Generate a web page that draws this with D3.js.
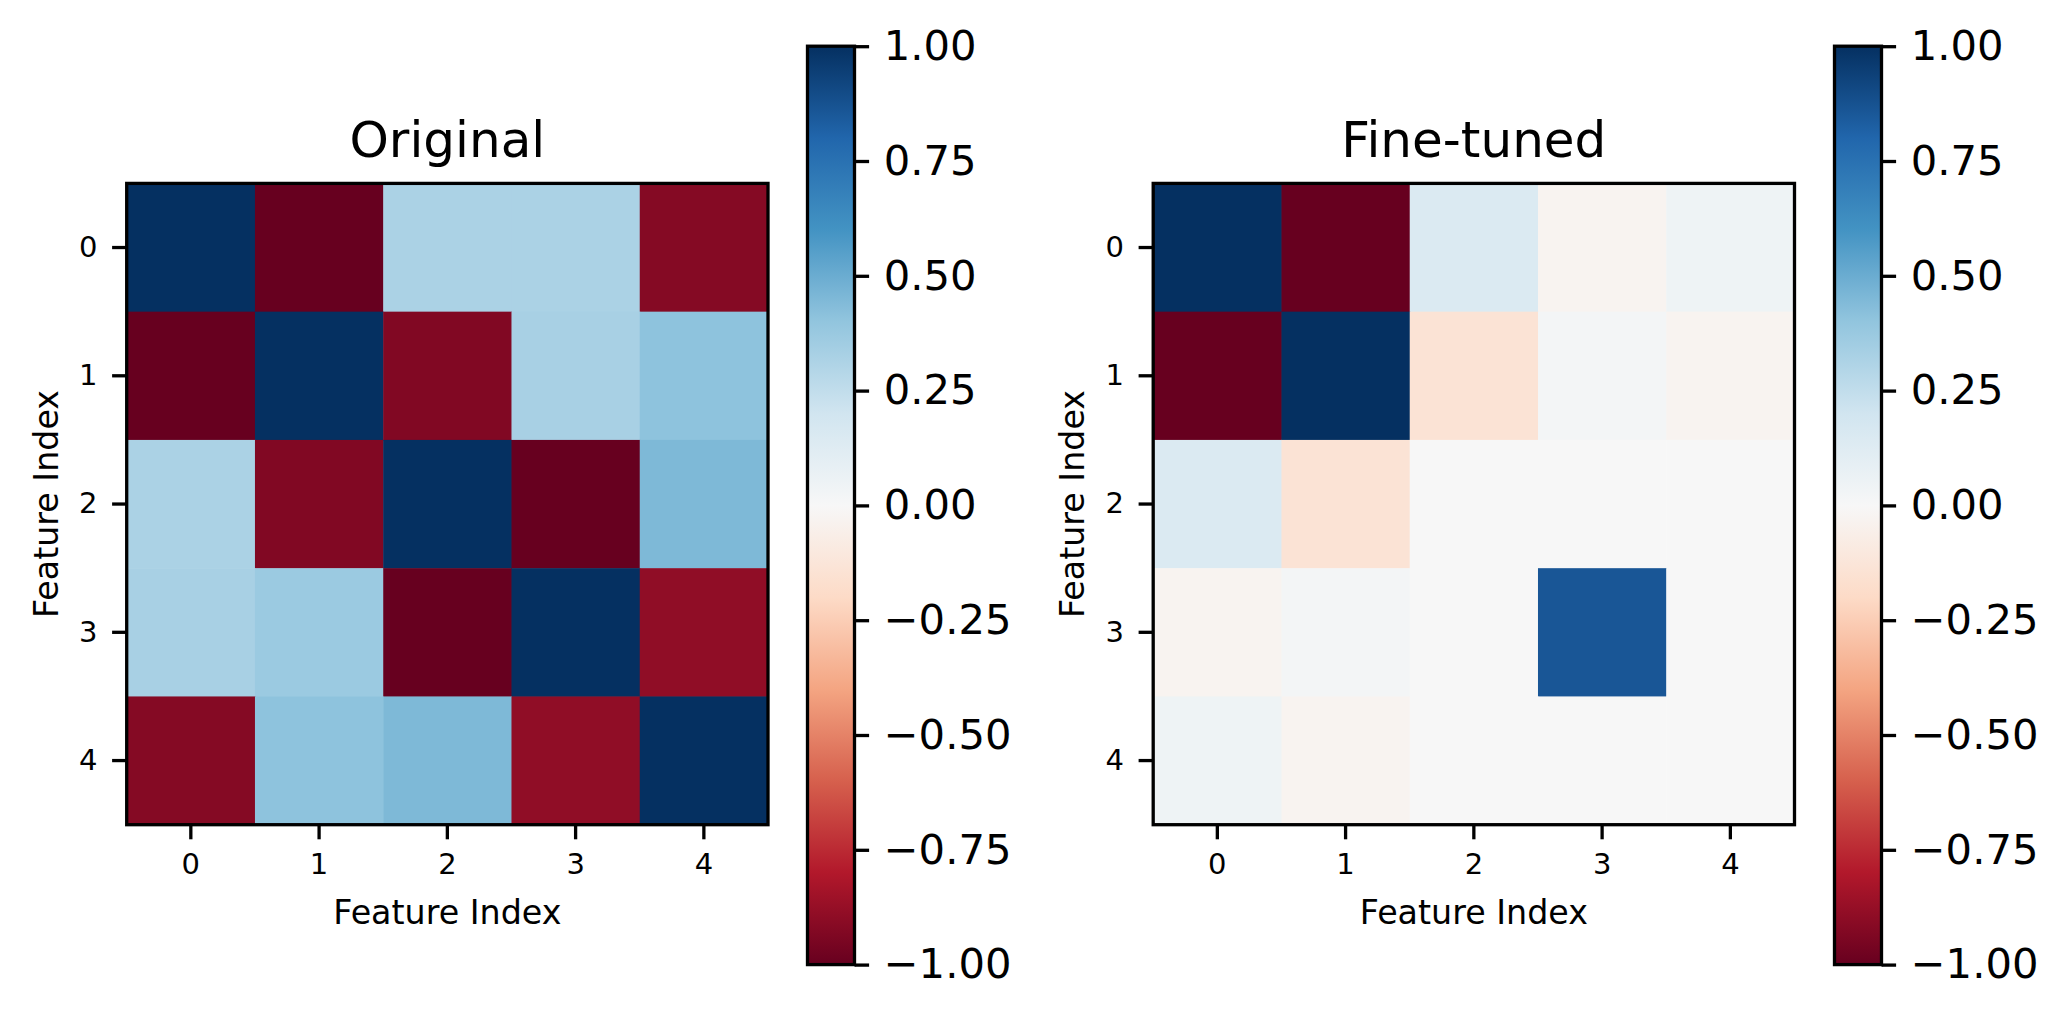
<!DOCTYPE html>
<html>
<head>
<meta charset="utf-8">
<script src="https://cdn.jsdelivr.net/npm/d3@7"></script>
<style>
  body { margin: 0; background: #fff; }
  svg { display: block; font-family: "DejaVu Sans", sans-serif; }
</style>
</head>
<body>
<div id="chart"></div>
<script>
// Data
const features = [0, 1, 2, 3, 4];
const originalMatrix = [
  [1.00, -1.00, 0.32, 0.32, -0.92],
  [-1.00, 1.00, -0.93, 0.33, 0.41],
  [0.32, -0.93, 1.00, -1.00, 0.45],
  [0.33, 0.37, -1.00, 1.00, -0.89],
  [-0.92, 0.41, 0.45, -0.89, 1.00]
];
const finetunedMatrix = [
  [1.00, -1.00, 0.15, -0.03, 0.05],
  [-1.00, 1.00, -0.14, 0.02, -0.03],
  [0.15, -0.14, 0.00, 0.00, 0.00],
  [-0.03, 0.02, 0.00, 0.86, 0.00],
  [0.05, -0.03, 0.00, 0.00, 0.00]
];
const titles = ["Original", "Fine-tuned"];
const colorbarTicks = [-1, -0.75, -0.5, -0.25, 0, 0.25, 0.5, 0.75, 1];
const rdbuColors = ["#67001f", "#b2182b", "#d6604d", "#f4a582", "#fddbc7", "#f7f7f7",
                    "#d1e5f0", "#92c5de", "#4393c3", "#2166ac", "#053061"];

// Setup
const width = 2069, height = 1019;
const lw = 3.3, tickLen = 14.6, tickPad = 14.6;

const svg = d3.select("#chart").append("svg")
  .attr("width", width)
  .attr("height", height);

// matplotlib-like RdBu: linear between the 11 colours
const colorStops = d3.range(rdbuColors.length).map(i => -1 + 2 * i / (rdbuColors.length - 1));
const color = d3.scaleLinear()
  .domain(colorStops)
  .range(rdbuColors)
  .interpolate(d3.interpolateRgb)
  .clamp(true);

// gradient for colorbars
const grad = svg.append("defs").append("linearGradient")
  .attr("id", "rdbu")
  .attr("x1", 0).attr("y1", 1).attr("x2", 0).attr("y2", 0);
grad.selectAll("stop")
  .data(rdbuColors)
  .enter().append("stop")
  .attr("offset", (d, i) => (i / (rdbuColors.length - 1) * 100) + "%")
  .attr("stop-color", d => d);

const panels = [
  { matrix: originalMatrix, title: titles[0], x0: 126.7, cbX: 807.5 },
  { matrix: finetunedMatrix, title: titles[1], x0: 1153.2, cbX: 1834.5 }
];
const y0 = 183.4, size = 641.3;
const cbTop = 46.2, cbBottom = 964.6, cbWidth = 47;

panels.forEach(p => {
  const g = svg.append("g");

  let x = d3.scaleBand().domain(features).range([p.x0, p.x0 + size]);
  let y = d3.scaleBand().domain(features).range([y0, y0 + size]);

  // cells
  let cells = [];
  p.matrix.forEach((row, i) => row.forEach((v, j) => cells.push({ r: i, c: j, v: v })));
  g.selectAll("rect.cell")
    .data(cells)
    .enter().append("rect")
    .attr("class", "cell")
    .attr("x", d => x(d.c))
    .attr("y", d => y(d.r))
    .attr("width", x.bandwidth() + 0.5)
    .attr("height", y.bandwidth() + 0.5)
    .attr("fill", d => color(d.v));

  // frame
  g.append("rect")
    .attr("x", p.x0).attr("y", y0)
    .attr("width", size).attr("height", size)
    .attr("fill", "none")
    .attr("stroke", "black")
    .attr("stroke-width", lw);

  // axes
  let xAxis = d3.axisBottom(x).tickSize(tickLen).tickPadding(tickPad);
  let yAxis = d3.axisLeft(y).tickSize(tickLen).tickPadding(tickPad);

  let gx = g.append("g")
    .attr("transform", "translate(0," + (y0 + size) + ")")
    .call(xAxis);
  let gy = g.append("g")
    .attr("transform", "translate(" + p.x0 + ",0)")
    .call(yAxis);
  [gx, gy].forEach(a => {
    a.select(".domain").remove();
    a.selectAll(".tick line").attr("stroke", "black").attr("stroke-width", lw);
    a.selectAll(".tick text")
      .attr("fill", "black")
      .attr("font-size", "29px")
      .attr("font-family", "DejaVu Sans");
  });

  // labels
  g.append("text")
    .attr("x", p.x0 + size / 2)
    .attr("y", 924)
    .attr("text-anchor", "middle")
    .attr("font-size", "33.3px")
    .text("Feature Index");

  g.append("text")
    .attr("transform", "translate(" + (p.x0 - 69) + "," + (y0 + size / 2) + ") rotate(-90)")
    .attr("text-anchor", "middle")
    .attr("font-size", "33.3px")
    .text("Feature Index");

  g.append("text")
    .attr("x", p.x0 + size / 2)
    .attr("y", 157)
    .attr("text-anchor", "middle")
    .attr("font-size", "50px")
    .text(p.title);

  // colorbar
  let cbScale = d3.scaleLinear().domain([-1, 1]).range([cbBottom, cbTop]);
  g.append("rect")
    .attr("x", p.cbX).attr("y", cbTop)
    .attr("width", cbWidth).attr("height", cbBottom - cbTop)
    .attr("fill", "url(#rdbu)")
    .attr("stroke", "black")
    .attr("stroke-width", lw);

  let cbAxis = d3.axisRight(cbScale)
    .tickValues(colorbarTicks)
    .tickFormat(d => d3.format(".2f")(d).replace("-", "\u2212"))
    .tickSize(tickLen)
    .tickPadding(tickPad);
  let gc = g.append("g")
    .attr("transform", "translate(" + (p.cbX + cbWidth) + ",0)")
    .call(cbAxis);
  gc.select(".domain").remove();
  gc.selectAll(".tick line").attr("stroke", "black").attr("stroke-width", lw);
  gc.selectAll(".tick text")
    .attr("fill", "black")
    .attr("font-size", "41.7px")
    .attr("font-family", "DejaVu Sans");
});
</script>
</body>
</html>
